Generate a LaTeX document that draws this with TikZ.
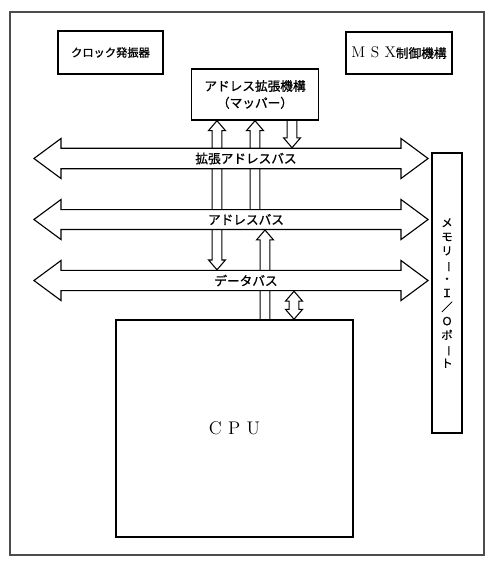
\documentclass[tikz,border=0pt]{standalone}
\usepackage{graphicx}
\usepackage{fontspec}
\newfontfamily\jp[FakeBold=1]{Noto Sans CJK JP}
\usetikzlibrary{calc,positioning,shapes.arrows,backgrounds}

\newcommand{\tate}{\rotatebox[origin=c]{-90}{ー}}

\begin{document}
\begin{tikzpicture}[x=0.025cm,y=-0.025cm,line join=miter,
    every node/.style={font=\jp\fontsize{9}{12}\selectfont},
    block/.style={draw,line width=1pt,inner sep=0pt},
    bus/.style={double arrow,draw,fill=white,line width=.8pt,minimum height=9.85cm,minimum width=1cm,
      double arrow head extend=.1875cm,double arrow tip angle=73,inner sep=1pt},
    hollow/.style={draw,line width=.75pt},
    tip end/.style={to path={let \p1=(\tikztostart),\p2=(\tikztotarget),\p3=($(\x1,\y2)!7pt!(\p1)$) in
      (\x1-3.5pt,\y1) -- (\x1-3.5pt,\y3) -- (\x1-6pt,\y3) -- (\x1,\y2)
      -- (\x1+6pt,\y3) -- (\x1+3.5pt,\y3) -- (\x1+3.5pt,\y1)}},
    two tips/.style={to path={let \p1=(\tikztostart),\p2=(\tikztotarget),
      \p3=($(\x1,\y2)!7pt!(\p1)$),\p4=($(\p1)!7pt!(\x1,\y2)$) in
      (\p1) -- (\x1+6pt,\y4) -- (\x1+3.5pt,\y4) -- (\x1+3.5pt,\y3) -- (\x1+6pt,\y3) -- (\x1,\y2)
      -- (\x1-6pt,\y3) -- (\x1-3.5pt,\y3) -- (\x1-3.5pt,\y4) -- (\x1-6pt,\y4) -- cycle}}]

    \useasboundingbox (0,0) rectangle (493,569);
    \draw[black!70,line width=.8pt] (10,12) rectangle (484,555);

    \node[block,minimum width=2.625cm,minimum height=1.075cm,font=\jp\fontsize{8}{10}\selectfont] (CLOCK) at (110.5,52.5) {クロック発振器};
    \node[block,minimum width=2.65cm,minimum height=1.05cm] (MSX) at (399,53) {{\rmfamily\fontsize{11}{13}\selectfont M\hspace{.35em}S\hspace{.35em}X}制御機構};
    \node[block,minimum width=3.175cm,minimum height=1.275cm,align=center] (MAPPER) at (255,94.5) {アドレス拡張機構\\（マッパー）};

    \node[bus] (EXTBUS) at (231,158.5) {\hspace*{.75cm}拡張アドレスバス};
    \node[bus,below of=EXTBUS,node distance=1.525cm] (ADDRBUS) {\hspace*{.75cm}アドレスバス};
    \node[bus,below of=ADDRBUS,node distance=1.525cm] (DATABUS) {\hspace*{.75cm}データバス};

    \node[block,line width=.8pt,minimum width=.75cm,minimum height=7cm,align=center,font=\jp\fontsize{8}{10}\selectfont] (MEMIO) at (447,293)
      {メ\\モ\\リ\\\tate\\・\\Ｉ\\／\\Ｏ\\ポ\\\tate\\ト};
    \node[block,minimum width=5.925cm,minimum height=5.425cm,font=\rmfamily\fontsize{13}{15}\selectfont] (CPU) at (234.5,428.5) {C\hspace{.35em}P\hspace{.35em}U};

    \begin{scope}[on background layer]
      \path[hollow,two tips] ([xshift=-.95cm]MAPPER.south) to (DATABUS.90);
      \path[hollow,tip end] (MAPPER.south |- ADDRBUS.90) to (MAPPER.south);
      \path[hollow,tip end] ([xshift=.925cm]MAPPER.south) to (EXTBUS.90);
      \path[hollow,tip end] ([xshift=.7625cm]CPU.north) to (ADDRBUS.270);
      \path[hollow,two tips] ([xshift=1.4875cm]CPU.north) to (DATABUS.270);
    \end{scope}
  \end{tikzpicture}
\end{document}
